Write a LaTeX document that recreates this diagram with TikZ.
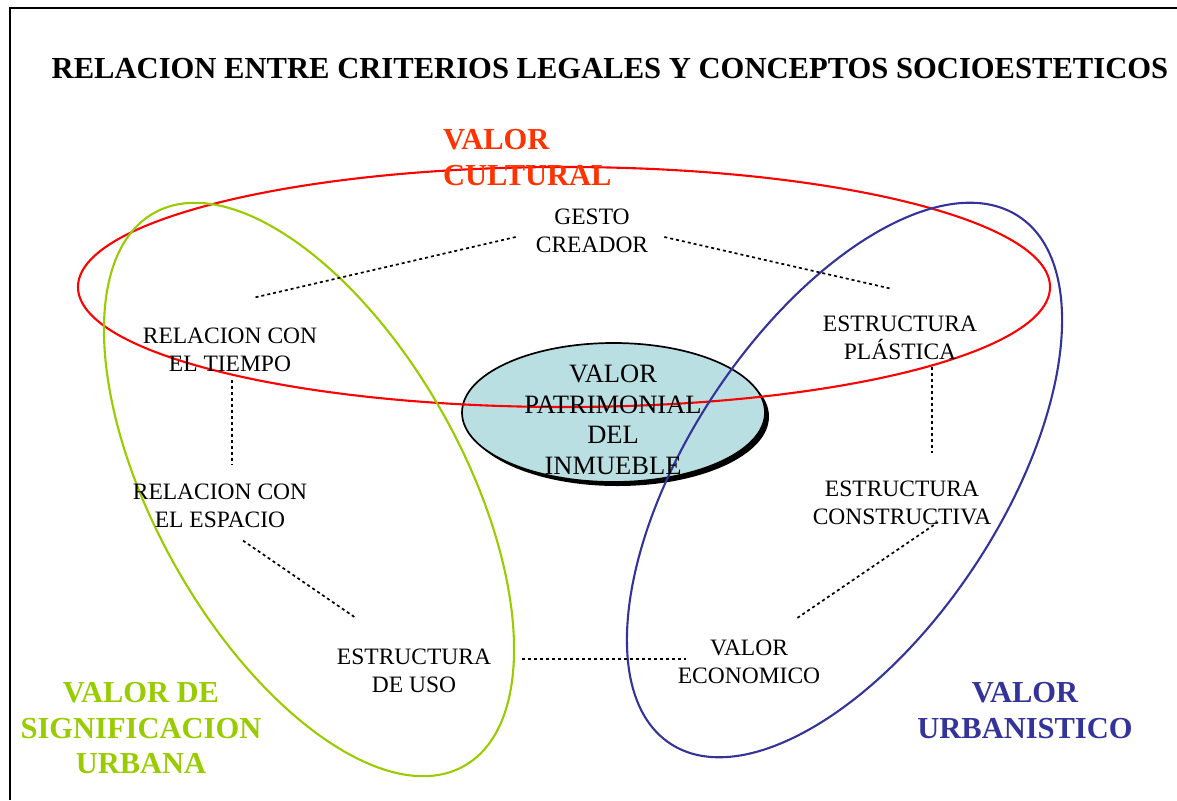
\documentclass[tikz,border=0pt]{standalone}
\usepackage{fontspec}
\setmainfont{Liberation Serif}
\usetikzlibrary{calc,shapes.geometric,shadows}
\definecolor{RingRed}{HTML}{FF0000}
\definecolor{TagRed}{HTML}{FF3300}
\definecolor{RingGreen}{HTML}{99CC00}
\definecolor{RingBlue}{HTML}{333399}
\definecolor{CoreFill}{HTML}{B9DFE3}
\tikzset{concept/.style={inner sep=0pt,align=center,font=\fontsize{23.5}{28}\selectfont},
 valuetag/.style={inner sep=0pt,align=center,font=\bfseries\fontsize{30.5}{35.5}\selectfont},
 heading/.style={inner sep=0pt,font=\bfseries\fontsize{30.6}{36}\selectfont},
 link/.style={line width=1.7pt,dash pattern=on 3pt off 3pt},
 ring/.style={line width=2.1pt},
 core/.style={ellipse,draw=black,line width=1.7pt,fill=CoreFill,minimum width=303pt,
 minimum height=139pt,inner sep=0pt,drop shadow={fill=black,opacity=1,shadow xshift=4pt,shadow yshift=-4pt}}}

\begin{document}
\begin{tikzpicture}[x=1pt,y=-1pt]
\useasboundingbox (0,0) rectangle (1177,800);
\draw[line width=2pt] (10,800)--(10,8)--(1177,8);
\node[heading] (titulo) at (610,68.5) {RELACION ENTRE CRITERIOS LEGALES Y CONCEPTOS SOCIOESTETICOS};
% valor patrimonial al centro
\node[core] (nucleo) at (613.5,412.5) {};
\draw[ring,RingRed] (564,287) ellipse [x radius=486,y radius=120];
\draw[ring,RingGreen] (309,489.5) ellipse [x radius=154,y radius=317,rotate=29.25];
\draw[ring,RingBlue] (844.5,480) ellipse [x radius=156,y radius=316,rotate=-33.5];
\node[concept,font=\fontsize{26.5}{30.7}\selectfont] (patrimonio) at (613,420) {VALOR\\PATRIMONIAL\\DEL\\INMUEBLE};
\foreach \n/\x/\y/\txt in {gesto/592/231/{GESTO\\CREADOR},tiempo/230/350/{RELACION CON\\EL TIEMPO},
 espacio/220/505.5/{RELACION CON\\EL ESPACIO},uso/414/671/{ESTRUCTURA\\DE USO},
 economico/749/662/{VALOR\\ECONOMICO},constructiva/902/503/{ESTRUCTURA\\CONSTRUCTIVA},
 plastica/900/338/{ESTRUCTURA\\PLÁSTICA}}
 {\node[concept] (\n) at (\x,\y) {\txt};}
% criterios
\node[valuetag,text=TagRed,anchor=west,align=left] (cultural) at (443,157.75) {VALOR\\CULTURAL};
\node[valuetag,text=RingGreen] (significacion) at (141,728.5) {VALOR DE\\SIGNIFICACION\\URBANA};
\node[valuetag,text=RingBlue] (urbanistico) at (1025,710.5) {VALOR\\URBANISTICO};
% relaciones punteadas
\draw[link] ($(gesto.west)+(-20,6)$) -- ($(tiempo.north)+(23,-30)$);
\draw[link] ($(gesto.east)+(16,6)$) -- ($(plastica.north)+(-8,-27)$);
\draw[link] ($(tiempo.south)+(2,8)$) -- ($(espacio.north)+(12,-19)$);
\draw[link] ($(espacio.south)+(23,13)$) -- ($(uso.north west)+(19,-31)$);
\draw[link] ($(uso.east)+(31,-12)$) -- ($(economico.west)+(8,-3)$);
\draw[link] ($(economico.north east)+(-23,-22)$) -- ($(constructiva.south)+(36,-3)$);
\draw[link] ($(plastica.south)+(32,7)$) -- ($(constructiva.north)+(30,-28)$);
\end{tikzpicture}
\end{document}
